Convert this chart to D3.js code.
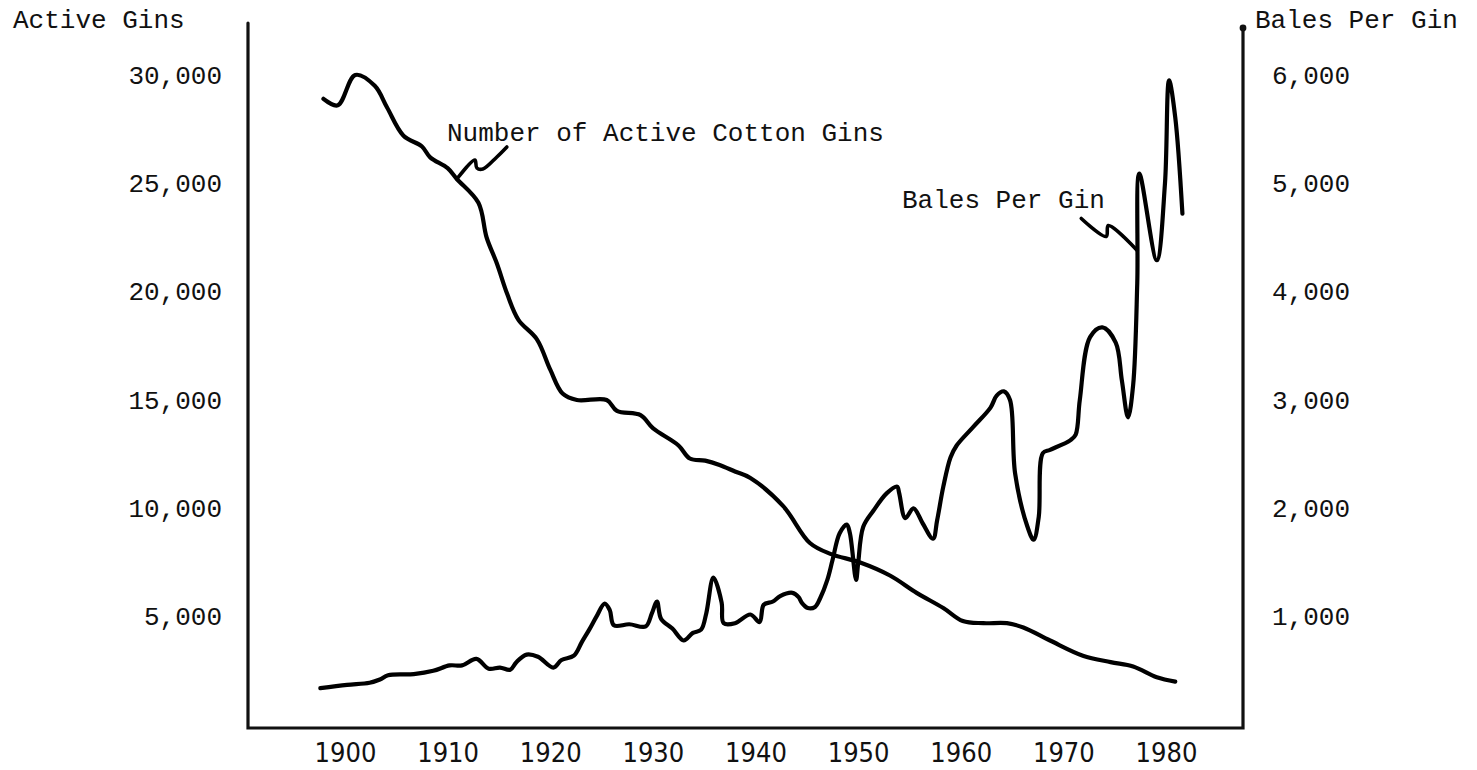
<!DOCTYPE html>
<html>
<head>
<meta charset="utf-8">
<title>Active Cotton Gins and Bales Per Gin</title>
<script src="https://cdn.jsdelivr.net/npm/d3@7"></script>
<style>
  body { margin: 0; background: #fff; }
  svg text { font-family: "Liberation Mono", "Courier New", monospace; }
  .year-axis text { font-family: "DejaVu Sans Condensed", "Liberation Sans Narrow", sans-serif; }
</style>
</head>
<body>
<div id="chart"></div>
<script>
// (years are where the drawn line sits, so not whole years)
const ginYears = [1897.9, 1899.3, 1901.0, 1902.9, 1904.1, 1905.7, 1907.5, 1908.3, 1910.0, 1910.9,
    1913.0, 1913.8, 1914.8, 1915.8, 1916.9, 1918.7, 1920.0, 1921.2, 1922.6, 1925.5,
    1926.5, 1928.8, 1930.0, 1932.5, 1933.6, 1935.1, 1936.5, 1938.0, 1939.5, 1942.7,
    1945.3, 1947.3, 1950.2, 1953.1, 1955.7, 1958.3, 1960.2, 1962.2, 1964.5, 1966.1,
    1968.7, 1971.9, 1974.6, 1976.8, 1979.1, 1980.9];
const ginCounts = [28900, 28600, 30000, 29500, 28500, 27200, 26700, 26200, 25700, 25200,
    24100, 22500, 21300, 19900, 18700, 17800, 16400, 15300, 15000, 15000,
    14500, 14300, 13700, 12900, 12300, 12200, 12000, 11700, 11400, 10100,
    8400, 7900, 7500, 6900, 6100, 5400, 4800, 4700, 4700, 4500,
    3900, 3200, 2900, 2700, 2200, 2000];

const baleYears = [1897.6, 1900.2, 1902.4, 1903.4, 1904.2, 1906.7, 1908.6, 1910.2, 1911.4, 1912.8,
    1914.0, 1915.1, 1916.1, 1916.7, 1917.7, 1918.8, 1920.3, 1921.1, 1922.3, 1923.1,
    1923.8, 1924.5, 1925.3, 1925.8, 1926.2, 1927.7, 1929.3, 1929.9, 1930.4, 1930.8,
    1931.9, 1933.0, 1933.9, 1934.7, 1935.2, 1935.9, 1936.7, 1936.9, 1938.0, 1939.5,
    1940.4, 1940.8, 1941.7, 1942.4, 1943.6, 1944.2, 1944.5, 1945.1, 1945.8, 1946.3,
    1947.0, 1947.5, 1948.2, 1948.9, 1949.2, 1949.8, 1950.0, 1950.5, 1951.5, 1952.8,
    1953.8, 1954.0, 1954.6, 1955.4, 1956.3, 1957.3, 1957.7, 1958.3, 1959.0, 1959.6,
    1961.2, 1962.9, 1963.5, 1964.2, 1964.8, 1965.3, 1966.5, 1967.1, 1967.6, 1968.0,
    1968.7, 1970.7, 1971.2, 1971.6, 1972.6, 1973.8, 1975.1, 1975.7, 1976.3, 1976.8,
    1977.2, 1977.4, 1979.1, 1979.9, 1980.3, 1980.9, 1981.6];
const balesPerGin = [340, 370, 390, 420, 460, 470, 500, 550, 550, 610,
    520, 530, 510, 580, 650, 630, 530, 600, 640, 770,
    880, 1000, 1120, 1060, 920, 930, 910, 1030, 1140, 980,
    890, 780, 850, 880, 1030, 1360, 1130, 940, 940, 1020,
    950, 1110, 1140, 1190, 1220, 1180, 1130, 1080, 1090, 1170,
    1340, 1520, 1770, 1850, 1770, 1340, 1490, 1830, 1980, 2140,
    2200, 2140, 1910, 2000, 1860, 1720, 1890, 2200, 2470, 2580,
    2750, 2930, 3040, 3080, 3000, 2320, 1830, 1710, 1920, 2510,
    2540, 2630, 2680, 3000, 3580, 3670, 3530, 3180, 2840, 3140,
    4080, 5090, 4290, 5000, 5950, 5610, 4720];

const yearTicks = [1900, 1910, 1920, 1930, 1940, 1950, 1960, 1970, 1980];
const ginTicks = [5000, 10000, 15000, 20000, 25000, 30000];
const baleTicks = [1000, 2000, 3000, 4000, 5000, 6000];

const width = 1477, height = 770;
const frame = { left: 248, right: 1243, bottom: 728, topLeft: 23, topRight: 28 };
const ink = "#111";

const svg = d3.select("#chart").append("svg")
    .attr("width", width)
    .attr("height", height);

svg.append("rect").attr("width", width).attr("height", height).attr("fill", "#fff");

const x = d3.scaleLinear().domain([1900, 1980]).range([345, 1166]);
const yGins = d3.scaleLinear().domain([0, 30000]).range([725, 75]);
const yBales = d3.scaleLinear().domain([0, 6000]).range([725, 75]);

// frame: two vertical axes and the base line
svg.append("path")
    .attr("d", `M${frame.left},${frame.topLeft}V${frame.bottom}H${frame.right}V${frame.topRight}`)
    .attr("fill", "none")
    .attr("stroke", ink)
    .attr("stroke-width", 3.2)
    .attr("stroke-linecap", "round");
svg.append("circle")
    .attr("cx", frame.right).attr("cy", frame.topRight).attr("r", 3.4)
    .attr("fill", ink);

// left axis labels
svg.append("g")
    .attr("transform", `translate(${frame.left},0)`)
    .call(d3.axisLeft(yGins).tickValues(ginTicks).tickSize(0).tickPadding(26).tickFormat(d3.format(",")))
    .call(g => g.select(".domain").remove())
    .selectAll("text")
    .attr("fill", ink)
    .style("font-size", "26px");

// right axis labels
svg.append("g")
    .attr("transform", `translate(${frame.right},0)`)
    .call(d3.axisRight(yBales).tickValues(baleTicks).tickSize(0).tickPadding(29).tickFormat(d3.format(",")))
    .call(g => g.select(".domain").remove())
    .selectAll("text")
    .attr("fill", ink)
    .style("font-size", "26px");

// years along the bottom
svg.append("g")
    .attr("class", "year-axis")
    .attr("transform", `translate(0,${frame.bottom})`)
    .call(d3.axisBottom(x).tickValues(yearTicks).tickSize(0).tickFormat(d3.format("d")))
    .call(g => g.select(".domain").remove())
    .selectAll("text")
    .attr("y", 34)
    .attr("dy", 0)
    .attr("fill", ink)
    .style("font-size", "27px");

// axis titles
svg.append("text").attr("x", 13).attr("y", 28)
    .attr("fill", ink).style("font-size", "26px").text("Active Gins");
svg.append("text").attr("x", 1255).attr("y", 28)
    .attr("fill", ink).style("font-size", "26px").text("Bales Per Gin");

// the two series
const smooth = d3.curveCatmullRom.alpha(0.5);

const ginPoints = ginYears.map((yr, i) => [x(yr), yGins(ginCounts[i])]);
const balePoints = baleYears.map((yr, i) => [x(yr), yBales(balesPerGin[i])]);

svg.append("path")
    .attr("d", d3.line().curve(smooth)(ginPoints))
    .attr("fill", "none")
    .attr("stroke", "#000")
    .attr("stroke-width", 4.2)
    .attr("stroke-linecap", "round")
    .attr("stroke-linejoin", "round");

svg.append("path")
    .attr("d", d3.line().curve(smooth)(balePoints))
    .attr("fill", "none")
    .attr("stroke", "#000")
    .attr("stroke-width", 4.2)
    .attr("stroke-linecap", "round")
    .attr("stroke-linejoin", "round");

// hand drawn leaders from the labels to the lines
function leader(anchor, offsets) {
    const pts = offsets.map(o => [anchor[0] + o[0], anchor[1] + o[1]]);
    svg.append("path")
        .attr("d", d3.line().curve(smooth)(pts))
        .attr("fill", "none")
        .attr("stroke", "#000")
        .attr("stroke-width", 3.6)
        .attr("stroke-linecap", "round")
        .attr("stroke-linejoin", "round");
}

leader([x(1910.9), yGins(25200)],
    [[0, 0], [18, -19], [20, -11], [26, -10], [40, -22], [50, -32]]);
leader([x(1977.2), yBales(4380)],
    [[-56, -32], [-31, -14], [-29, -25], [0, 0]]);

svg.append("text").attr("x", 447).attr("y", 141)
    .attr("fill", ink).style("font-size", "26px").text("Number of Active Cotton Gins");
svg.append("text").attr("x", 902).attr("y", 208)
    .attr("fill", ink).style("font-size", "26px").text("Bales Per Gin");
</script>
</body>
</html>
